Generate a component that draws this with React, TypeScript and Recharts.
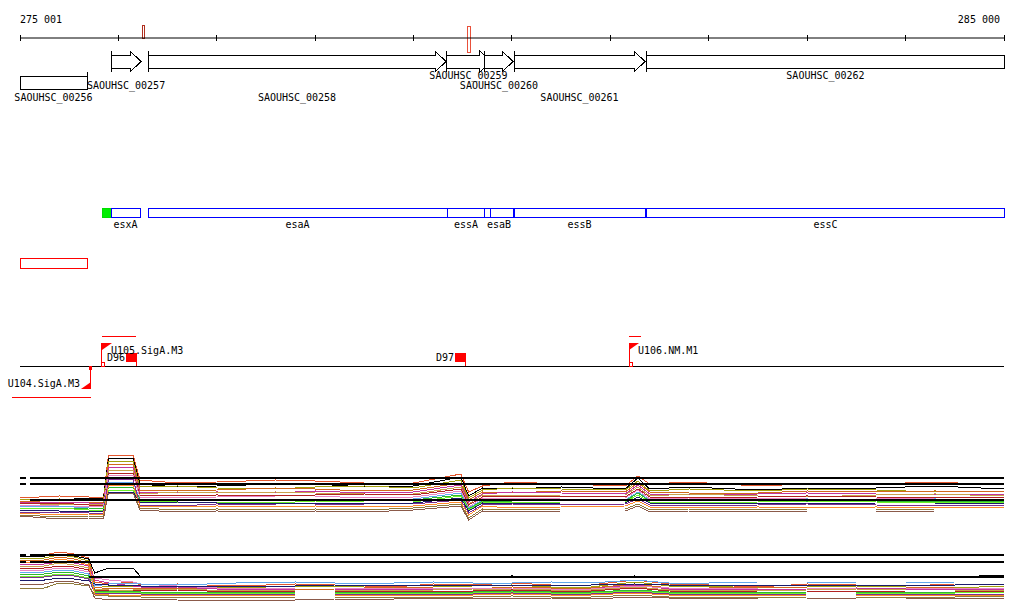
import React from "react";
import {
  ComposedChart,
  LineChart,
  Line,
  XAxis,
  YAxis,
  ReferenceArea,
  ReferenceLine,
  ReferenceDot,
} from "recharts";

// genomic window shown
const viewStart = 275001;
const viewEnd = 285000;
const rulerTicks = [275001, 276000, 277000, 278000, 279000, 280000, 281000, 282000, 283000, 284000, 285000];

// gene annotation
const geneNames = ["SAOUHSC_00256", "SAOUHSC_00257", "SAOUHSC_00258", "SAOUHSC_00259", "SAOUHSC_00260", "SAOUHSC_00261", "SAOUHSC_00262"];
const geneStarts = [274300, 275926, 276302, 279330, 279726, 280021, 281372];
const geneEnds = [275682, 276231, 279330, 279787, 280011, 281352, 285900];
const geneStrands = ["-", "+", "+", "+", "+", "+", "+"];

// ess locus parts
const operonNames = ["esxA", "esaA", "essA", "", "esaB", "essB", "essC"];
const operonStarts = [275926, 276302, 279340, 279726, 279726, 280021, 281372];
const operonEnds = [276221, 279340, 279726, 279787, 280011, 281352, 285000];
const rbsStart = 275844;
const rbsEnd = 275926;

// small marks over the ruler
const markerStarts = [276241, 279553];
const markerEnds = [276271, 279583];

// red region box
const regionStart = 274300;
const regionEnd = 275682;

// promoters and terminators
const promoterNames = ["U104.SigA.M3", "U105.SigA.M3", "U106.NM.M1"];
const promoterPos = [275722, 275834, 281190];
const promoterStrands = ["-", "+", "+"];
const promoterSpanStarts = [274920, 275834, 281190];
const promoterSpanEnds = [275722, 276180, 281312];
const terminatorNames = ["D96", "D97"];
const terminatorPos = [276180, 279523];

// expression profiles
const sampleNames = ["s01", "s02", "s03", "s04", "s05", "s06", "s07", "s08", "s09", "s10", "s11", "s12", "s13", "s14", "s15", "s16"];

const positionsA = [
  275001, 275400, 275700, 275850, 275900, 276150, 276220, 276600, 277000, 277600, 278000, 278500, 279000, 279480,
  279560, 279700, 280000, 280500, 281150, 281280, 281400, 281800, 282500, 283000, 283700, 284300, 285000,
];
const valuesA = [
  [5.4, 5.8, 5.6, 5.6, 14.0, 14.0, 9.0, 8.4, 8.6, 9.0, 8.8, 8.4, 8.4, 10.2, 6.6, 7.8, 8.6, 8.2, 7.8, 9.8, 8.2, 8.6, 7.8, 8.2, 8.2, 8.6, 8.0],
  [5.2, 5.0, 5.4, 5.4, 13.4, 13.4, 8.2, 7.6, 7.8, 8.2, 8.2, 7.6, 7.8, 9.6, 5.8, 7.4, 7.2, 7.6, 7.2, 9.4, 7.2, 7.6, 7.0, 7.4, 7.4, 7.8, 7.2],
  [5.0, 5.2, 5.0, 5.0, 12.8, 12.8, 7.6, 7.8, 7.4, 7.2, 7.6, 7.8, 7.4, 9.0, 5.4, 7.0, 7.4, 7.2, 7.0, 8.8, 6.8, 7.2, 6.8, 7.2, 7.0, 6.6, 6.8],
  [4.8, 4.4, 4.6, 4.6, 12.2, 12.2, 7.0, 6.8, 7.0, 7.4, 7.2, 6.8, 7.0, 8.4, 5.0, 6.6, 6.4, 6.8, 6.6, 8.4, 6.6, 6.4, 6.4, 6.8, 6.6, 6.8, 6.6],
  [4.6, 4.6, 4.4, 4.4, 11.6, 11.6, 6.6, 6.4, 6.6, 6.4, 6.8, 6.4, 6.6, 8.0, 4.6, 6.2, 6.6, 6.4, 6.2, 8.0, 6.2, 6.0, 6.2, 6.4, 6.2, 6.0, 6.2],
  [4.4, 4.0, 4.2, 4.2, 11.0, 11.0, 6.2, 6.6, 6.4, 6.6, 6.4, 6.2, 6.2, 7.6, 4.2, 6.0, 5.8, 6.0, 6.0, 7.6, 5.8, 6.2, 5.8, 5.6, 6.0, 6.2, 5.8],
  [4.2, 4.4, 4.0, 4.0, 10.4, 10.4, 6.0, 5.8, 6.0, 5.8, 6.0, 6.2, 6.0, 7.2, 4.0, 5.6, 5.8, 5.8, 5.6, 7.2, 5.6, 5.4, 5.6, 5.8, 5.6, 5.4, 5.6],
  [4.0, 3.8, 3.8, 3.8, 10.0, 10.0, 5.6, 5.4, 5.6, 5.8, 5.8, 5.4, 5.6, 6.8, 3.6, 5.4, 5.2, 5.4, 5.4, 7.0, 5.2, 5.4, 5.4, 5.2, 5.2, 5.4, 5.4],
  [3.6, 3.8, 3.4, 3.4, 8.6, 8.6, 5.0, 5.2, 5.2, 4.8, 5.0, 5.2, 5.2, 6.4, 3.4, 5.0, 5.2, 5.2, 5.0, 6.6, 5.0, 4.8, 5.0, 5.2, 5.0, 5.2, 5.0],
  [3.4, 3.2, 3.4, 3.4, 7.6, 7.6, 5.2, 4.8, 5.0, 5.2, 5.2, 5.0, 5.0, 6.0, 3.2, 4.8, 4.8, 5.0, 4.8, 6.4, 4.8, 5.0, 4.8, 4.6, 4.8, 4.6, 4.8],
  [3.2, 3.4, 3.0, 3.0, 7.0, 7.0, 4.8, 4.6, 4.6, 4.4, 4.8, 4.6, 4.6, 5.8, 3.0, 4.6, 4.4, 4.6, 4.6, 6.0, 4.6, 4.4, 4.6, 4.8, 4.6, 4.4, 4.6],
  [3.0, 2.8, 2.8, 2.8, 6.6, 6.6, 4.4, 4.6, 4.4, 4.4, 4.4, 4.2, 4.4, 5.4, 2.8, 4.4, 4.2, 4.4, 4.4, 5.6, 4.4, 4.4, 4.4, 4.2, 4.4, 4.4, 4.4],
  [2.6, 2.6, 2.4, 2.4, 9.2, 9.2, 4.0, 3.8, 4.2, 4.0, 4.0, 4.2, 4.2, 5.0, 2.4, 4.0, 4.2, 4.0, 4.2, 5.2, 4.0, 3.8, 4.0, 4.2, 4.0, 3.8, 4.0],
  [2.4, 2.0, 2.2, 2.2, 8.0, 8.0, 3.8, 3.6, 3.8, 3.6, 3.8, 3.6, 3.8, 4.6, 2.0, 3.8, 3.4, 3.6, 3.8, 4.8, 3.6, 3.4, 3.6, 3.4, 3.6, 3.4, 3.6],
  [2.0, 1.6, 1.8, 1.8, 6.4, 6.4, 3.4, 3.0, 3.2, 3.0, 3.2, 3.0, 3.4, 4.2, 1.4, 3.2, 3.0, 3.2, 3.2, 4.2, 3.0, 3.2, 3.2, 3.0, 3.0, 3.2, 3.2],
  [1.8, 1.2, 1.4, 1.4, 6.4, 6.4, 3.0, 2.6, 2.8, 2.6, 2.8, 2.6, 3.0, 3.8, 1.0, 2.8, 2.6, 2.8, 2.8, 3.8, 2.6, 2.8, 2.8, 2.6, 2.6, 2.8, 2.8],
];
const guidesA = [
  [9.4, 275001, 275060],
  [9.4, 275100, 285000],
  [8.2, 275001, 275060],
  [8.2, 275100, 285000],
  [5.0, 275100, 285000],
];

const positionsB = [
  275001, 275250, 275400, 275550, 275700, 275760, 275900, 276150, 276230, 276600, 277200, 277800, 278200, 278800,
  279200, 279600, 280000, 280400, 280800, 281250, 281600, 282000, 282500, 283000, 283500, 284000, 284500, 285000,
];
const valuesB = [
  [10.6, 11.0, 11.6, 11.2, 10.4, 5.6, 5.2, 5.6, 5.0, 5.2, 4.8, 5.2, 5.0, 4.6, 5.2, 5.0, 5.4, 5.0, 5.0, 6.0, 5.2, 5.0, 4.6, 5.2, 5.0, 4.8, 5.2, 5.2],
  [10.8, 10.8, 11.2, 10.8, 10.2, 7.4, 8.4, 8.4, 6.6, 6.6, 6.6, 6.6, 6.6, 6.6, 6.6, 6.6, 6.8, 6.6, 6.6, 6.8, 6.6, 6.6, 6.6, 6.6, 6.6, 6.6, 6.6, 7.0],
  [10.2, 10.4, 11.0, 10.6, 9.8, 5.0, 4.6, 4.8, 4.8, 4.6, 4.4, 4.8, 4.8, 4.4, 4.6, 4.8, 5.0, 4.6, 4.6, 5.6, 4.8, 4.8, 4.4, 4.6, 4.8, 4.6, 4.4, 4.8],
  [9.8, 10.0, 10.6, 10.2, 9.4, 4.6, 4.2, 4.4, 4.4, 4.4, 4.2, 4.0, 4.2, 4.6, 4.4, 4.2, 4.6, 4.4, 4.4, 5.2, 4.4, 4.4, 4.6, 4.4, 4.2, 4.4, 4.6, 4.6],
  [9.0, 9.2, 9.6, 9.4, 8.8, 6.0, 5.4, 4.8, 4.6, 4.6, 4.0, 4.2, 4.2, 4.0, 4.2, 4.4, 4.4, 4.2, 4.2, 5.0, 4.2, 4.2, 4.0, 4.2, 4.4, 4.2, 4.0, 4.2],
  [8.6, 8.8, 9.4, 9.0, 8.4, 4.2, 4.0, 4.0, 4.2, 4.2, 3.8, 4.0, 4.0, 3.8, 4.0, 4.2, 4.2, 4.0, 4.0, 4.6, 4.0, 4.0, 3.8, 4.0, 4.2, 4.0, 4.0, 4.0],
  [8.2, 8.4, 8.8, 8.6, 8.0, 4.0, 3.8, 3.8, 4.0, 4.0, 3.6, 3.8, 3.8, 3.6, 3.8, 3.8, 4.0, 3.8, 3.8, 4.4, 3.8, 3.6, 3.8, 3.8, 3.6, 3.8, 3.8, 3.8],
  [7.8, 8.0, 8.4, 8.2, 7.6, 6.4, 6.0, 5.6, 5.2, 4.8, 4.2, 4.4, 4.4, 4.2, 4.4, 4.4, 4.4, 4.2, 4.2, 4.8, 4.4, 4.4, 4.2, 4.2, 4.4, 4.4, 4.2, 4.4],
  [7.4, 7.6, 8.0, 7.8, 7.2, 4.8, 5.2, 5.4, 5.2, 5.0, 5.4, 5.6, 5.4, 5.4, 5.6, 5.4, 5.4, 5.6, 5.4, 6.0, 5.4, 5.4, 5.6, 5.6, 5.4, 5.4, 5.6, 5.6],
  [7.0, 7.2, 7.6, 7.4, 6.8, 3.8, 3.8, 3.8, 3.6, 3.6, 3.4, 3.6, 3.6, 3.4, 3.6, 3.6, 3.8, 3.6, 3.6, 4.0, 3.6, 3.6, 3.4, 3.6, 3.6, 3.6, 3.4, 3.6],
  [6.6, 6.8, 7.2, 7.0, 6.4, 3.6, 3.6, 3.6, 3.4, 3.4, 3.2, 3.4, 3.4, 3.2, 3.4, 3.4, 3.6, 3.4, 3.4, 3.8, 3.4, 3.4, 3.2, 3.4, 3.4, 3.4, 3.4, 3.6],
  [6.0, 6.0, 6.4, 6.2, 5.8, 5.2, 5.0, 5.0, 4.8, 4.8, 4.8, 4.8, 5.0, 5.0, 5.0, 5.0, 5.0, 5.0, 5.0, 5.2, 5.0, 5.0, 5.0, 5.0, 5.0, 5.0, 5.0, 5.2],
  [6.4, 6.6, 7.0, 6.8, 6.2, 3.4, 3.4, 3.4, 3.2, 3.2, 3.0, 3.2, 3.2, 3.0, 3.2, 3.2, 3.4, 3.2, 3.2, 3.6, 3.2, 3.2, 3.0, 3.2, 3.2, 3.2, 3.2, 3.2],
  [9.4, 9.6, 10.2, 9.8, 9.0, 3.2, 3.0, 3.0, 3.0, 3.0, 2.8, 3.0, 3.0, 2.8, 3.0, 3.0, 3.2, 3.0, 3.0, 3.4, 3.0, 3.0, 2.8, 3.0, 3.0, 3.0, 3.0, 3.0],
  [4.2, 4.4, 5.4, 5.2, 4.8, 3.0, 2.8, 2.8, 2.6, 2.6, 2.4, 2.6, 2.6, 2.4, 2.6, 2.6, 2.8, 2.6, 2.6, 3.0, 2.6, 2.6, 2.4, 2.6, 2.6, 2.6, 2.6, 2.8],
  [5.0, 5.2, 5.8, 5.6, 5.0, 2.4, 2.0, 2.2, 2.2, 2.0, 1.8, 2.0, 2.2, 2.2, 2.4, 2.4, 2.4, 2.4, 2.2, 2.6, 2.4, 2.4, 2.2, 2.2, 2.4, 2.4, 2.4, 2.4],
];
const guidesB = [
  [11.0, 275001, 275060],
  [11.0, 275100, 285000],
  [9.6, 275001, 275060],
  [9.6, 275100, 285000],
  [6.6, 275700, 285000],
];

// styles
const sampleColors = [
  "#e4572e", "#000000", "#a3a10f", "#d2691e", "#c2359c", "#c9a24d", "#b22222", "#e986c6",
  "#62a8ee", "#2fb82f", "#6ef02a", "#1b1b6b", "#7d2f90", "#ff8a2b", "#8f7b3b", "#8b5a4a",
];
const W = 1024;
const H = 611;
const MARGIN = { top: 0, right: 20, bottom: 0, left: 20 };
const FONT = "'DejaVu Sans Mono', monospace";
const RED = "#ff0000";

const fmtCoord = (v: number) => String(v).replace(/(\d{3})$/, " $1");
const clamp = (v: number) => Math.max(viewStart, Math.min(viewEnd, v));

function RulerTick(props: any) {
  const { x, y, payload, index } = props;
  const last = index === rulerTicks.length - 1;
  return (
    <g>
      <line x1={x} x2={x} y1={y - 3} y2={y + 3} stroke="#000" shapeRendering="crispEdges" />
      {(index === 0 || last) && (
        <text x={last ? x - 4 : x} y={y - 15} textAnchor={last ? "end" : "start"} fontFamily={FONT} fontSize={10} fill="#000">
          {fmtCoord(payload.value)}
        </text>
      )}
    </g>
  );
}

function geneShape(strand: string, openStart: boolean, openEnd: boolean) {
  return (p: any) => {
    const { x, y, width: w, height: h } = p;
    const top = y + 4;
    const bot = y + h - 4;
    if (strand === "+") {
      const head = openEnd ? 0 : Math.min(11, w / 2);
      const pts = head
        ? `${x},${top} ${x + w - head},${top} ${x + w - head},${y} ${x + w},${y + h / 2} ${x + w - head},${y + h} ${x + w - head},${bot} ${x},${bot}`
        : `${x},${top} ${x + w},${top} ${x + w},${bot} ${x},${bot}`;
      return (
        <g shapeRendering="crispEdges">
          <polygon points={pts} fill="#fff" stroke="#000" />
          {!openStart && <line x1={x} x2={x} y1={y} y2={y + h} stroke="#000" />}
        </g>
      );
    }
    const head = openStart ? 0 : Math.min(11, w / 2);
    const pts = head
      ? `${x + w},${top} ${x + head},${top} ${x + head},${y} ${x},${y + h / 2} ${x + head},${y + h} ${x + head},${bot} ${x + w},${bot}`
      : `${x},${top} ${x + w},${top} ${x + w},${bot} ${x},${bot}`;
    return (
      <g shapeRendering="crispEdges">
        <polygon points={pts} fill="#fff" stroke="#000" />
        {!openEnd && <line x1={x + w} x2={x + w} y1={y} y2={bot} stroke="#000" />}
      </g>
    );
  };
}

const boxShape = (stroke: string, fill: string) => (p: any) => (
  <rect x={p.x} y={p.y} width={p.width} height={p.height} fill={fill} stroke={stroke} shapeRendering="crispEdges" />
);

const textShape = (label: string) => (p: any) => (
  <text x={p.cx} y={p.cy} dy="0.35em" textAnchor="middle" fontFamily={FONT} fontSize={10} fill="#000">
    {label}
  </text>
);

const promoterShape = (label: string, strand: string) => (p: any) => {
  const { cx, cy } = p;
  if (strand === "+") {
    return (
      <g>
        <line x1={cx} x2={cx} y1={cy} y2={cy - 23} stroke={RED} shapeRendering="crispEdges" />
        <polygon points={`${cx},${cy - 23} ${cx + 10},${cy - 23} ${cx},${cy - 16}`} fill={RED} />
        <rect x={cx} y={cy - 4} width={3} height={4} fill="none" stroke={RED} shapeRendering="crispEdges" />
        <text x={cx + 9} y={cy - 16} dy="0.35em" fontFamily={FONT} fontSize={10} fill="#000">{label}</text>
      </g>
    );
  }
  return (
    <g>
      <line x1={cx} x2={cx} y1={cy} y2={cy + 23} stroke={RED} shapeRendering="crispEdges" />
      <polygon points={`${cx},${cy + 23} ${cx - 10},${cy + 23} ${cx},${cy + 16}`} fill={RED} />
      <rect x={cx - 1.5} y={cy} width={3} height={4} fill={RED} shapeRendering="crispEdges" />
      <text x={cx - 11} y={cy + 17} dy="0.35em" textAnchor="end" fontFamily={FONT} fontSize={10} fill="#000">{label}</text>
    </g>
  );
};

const terminatorShape = (label: string) => (p: any) => {
  const { cx, cy } = p;
  return (
    <g>
      <rect x={cx - 10} y={cy - 13} width={10} height={9} fill={RED} shapeRendering="crispEdges" />
      <line x1={cx} x2={cx} y1={cy - 13} y2={cy} stroke={RED} shapeRendering="crispEdges" />
      <text x={cx - 11} y={cy - 9} dy="0.35em" textAnchor="end" fontFamily={FONT} fontSize={10} fill="#000">{label}</text>
    </g>
  );
};

// lane rows of the annotation panel (pixel rows below the ruler)
const FWD_ROW = [51, 72];
const REV_ROW = [72, 93];
const LABEL_ROWS = [75, 85, 97];
const REV_LABEL_ROW = 97;
const OPERON_ROW = [208, 217];
const OPERON_LABEL_ROW = 224;
const REGION_ROW = [258, 268];
const PROMOTER_BASE = 366;
const SPAN_ABOVE = 336;
const SPAN_BELOW = 397;
const MARKER_ROWS = [[25, 38], [26, 52]];
const MARKER_COLORS = ["#b03020", "#e8503a"];

function Annotation() {
  return (
    <ComposedChart width={W} height={430} margin={MARGIN} data={rulerTicks.map((pos) => ({ pos }))}>
      <XAxis
        type="number"
        dataKey="pos"
        orientation="top"
        height={38}
        domain={[viewStart, viewEnd]}
        ticks={rulerTicks}
        interval={0}
        tick={(p: any) => <RulerTick {...p} />}
        tickLine={false}
        tickSize={0}
        tickMargin={0}
        axisLine={{ stroke: "#000" }}
        allowDataOverflow
      />
      <YAxis type="number" domain={[38, 430]} reversed hide allowDataOverflow />

      {geneNames.map((name, i) => {
        const s = clamp(geneStarts[i]);
        const e = clamp(geneEnds[i]);
        const row = geneStrands[i] === "+" ? FWD_ROW : REV_ROW;
        return (
          <ReferenceArea
            key={name}
            x1={s}
            x2={e}
            y1={row[0]}
            y2={row[1]}
            ifOverflow="visible"
            shape={geneShape(geneStrands[i], geneStarts[i] < viewStart, geneEnds[i] > viewEnd)}
          />
        );
      })}
      {geneNames.map((name, i) => {
        const c = (clamp(geneStarts[i]) + clamp(geneEnds[i])) / 2;
        const row = geneStrands[i] === "+" ? LABEL_ROWS[i % 3] : REV_LABEL_ROW;
        return <ReferenceDot key={name + "-l"} x={c} y={row} r={0} ifOverflow="visible" shape={textShape(name)} />;
      })}

      {markerStarts.map((s, i) => (
        <ReferenceArea
          key={"m" + i}
          x1={s}
          x2={markerEnds[i]}
          y1={MARKER_ROWS[i][0]}
          y2={MARKER_ROWS[i][1]}
          ifOverflow="visible"
          shape={boxShape(MARKER_COLORS[i], "#fff")}
        />
      ))}

      <ReferenceArea x1={rbsStart} x2={rbsEnd} y1={OPERON_ROW[0]} y2={OPERON_ROW[1]} ifOverflow="visible" shape={boxShape("#00dd00", "#00ee00")} />
      {operonNames.map((name, i) => (
        <ReferenceArea
          key={"op" + i}
          x1={operonStarts[i]}
          x2={operonEnds[i]}
          y1={OPERON_ROW[0]}
          y2={OPERON_ROW[1]}
          ifOverflow="visible"
          shape={boxShape("#0000ff", "none")}
        />
      ))}
      {operonNames.map((name, i) =>
        name ? (
          <ReferenceDot
            key={"opl" + i}
            x={(operonStarts[i] + operonEnds[i]) / 2}
            y={OPERON_LABEL_ROW}
            r={0}
            ifOverflow="visible"
            shape={textShape(name)}
          />
        ) : null
      )}

      <ReferenceArea x1={clamp(regionStart)} x2={regionEnd} y1={REGION_ROW[0]} y2={REGION_ROW[1]} ifOverflow="visible" shape={boxShape(RED, "none")} />

      <ReferenceLine y={PROMOTER_BASE} stroke="#000" ifOverflow="visible" shapeRendering="crispEdges" />
      {promoterNames.map((name, i) => (
        <ReferenceLine
          key={"ps" + i}
          segment={[
            { x: promoterSpanStarts[i], y: promoterStrands[i] === "+" ? SPAN_ABOVE : SPAN_BELOW },
            { x: promoterSpanEnds[i], y: promoterStrands[i] === "+" ? SPAN_ABOVE : SPAN_BELOW },
          ]}
          stroke={RED}
          ifOverflow="visible"
          shapeRendering="crispEdges"
        />
      ))}
      {terminatorNames.map((name, i) => (
        <ReferenceDot key={name} x={terminatorPos[i]} y={PROMOTER_BASE} r={0} ifOverflow="visible" shape={terminatorShape(name)} />
      ))}
      {promoterNames.map((name, i) => (
        <ReferenceDot key={name} x={promoterPos[i]} y={PROMOTER_BASE} r={0} ifOverflow="visible" shape={promoterShape(name, promoterStrands[i])} />
      ))}
    </ComposedChart>
  );
}

function SignalTrack({ height, yMax, positions, values, guides }: { height: number; yMax: number; positions: number[]; values: number[][]; guides: number[][] }) {
  return (
    <LineChart width={W} height={height} margin={MARGIN}>
      <XAxis type="number" dataKey="pos" domain={[viewStart, viewEnd]} hide allowDataOverflow />
      <YAxis type="number" domain={[0, yMax]} hide allowDataOverflow />
      {values.map((vals, i) => (
        <Line
          key={sampleNames[i]}
          name={sampleNames[i]}
          data={positions.map((pos, j) => ({ pos, v: vals[j] }))}
          dataKey="v"
          type="linear"
          stroke={sampleColors[i]}
          strokeWidth={1}
          dot={false}
          activeDot={false}
          isAnimationActive={false}
          shapeRendering="crispEdges"
        />
      ))}
      {guides.map((g, i) => (
        <ReferenceLine
          key={"g" + i}
          segment={[{ x: g[1], y: g[0] }, { x: g[2], y: g[0] }]}
          stroke="#000"
          strokeWidth={1.2}
          ifOverflow="visible"
          shapeRendering="crispEdges"
        />
      ))}
    </LineChart>
  );
}

export default function App() {
  return (
    <div style={{ position: "absolute", left: 0, top: 0, width: W, height: H, background: "#fff", overflow: "hidden" }}>
      <div style={{ position: "absolute", left: 0, top: 0 }}>
        <Annotation />
      </div>
      <div style={{ position: "absolute", left: 0, top: 440 }}>
        <SignalTrack height={85} yMax={17} positions={positionsA} values={valuesA} guides={guidesA} />
      </div>
      <div style={{ position: "absolute", left: 0, top: 540 }}>
        <SignalTrack height={70} yMax={14} positions={positionsB} values={valuesB} guides={guidesB} />
      </div>
    </div>
  );
}
